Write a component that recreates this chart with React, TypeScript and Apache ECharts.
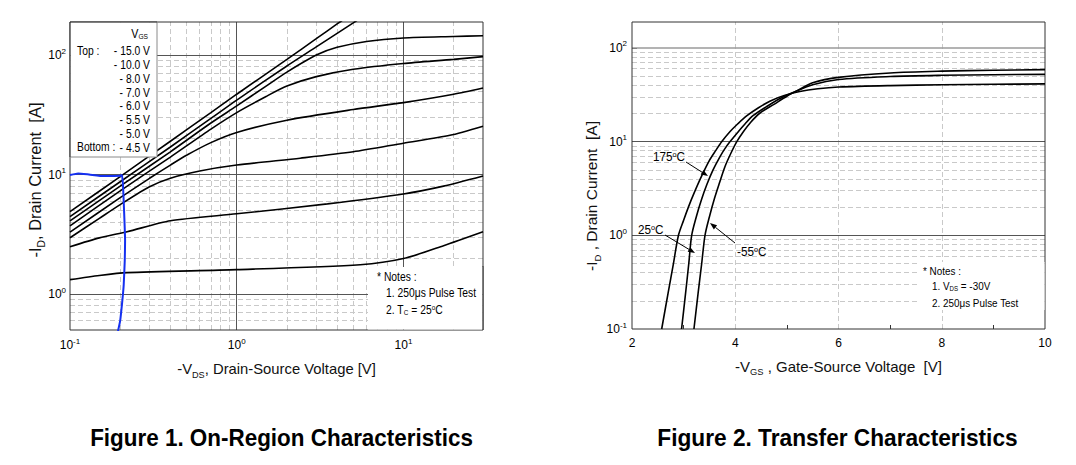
import React, { useEffect, useRef } from 'react';
import * as echarts from 'echarts';

const FONT = '"Liberation Sans", Arial, Helvetica, sans-serif';

// ---------------- Figure 1 : On-Region Characteristics ( -V_DS [V], -I_D [A] ) ----------------
const vgsLegendValues = ['- 15.0 V', '- 10.0 V', '- 8.0 V', '- 7.0 V', '- 6.0 V', '- 5.5 V', '- 5.0 V', '- 4.5 V'];

const onVgs15: [number, number][] = [[0.1, 4.9], [0.2, 9.6], [0.4, 19], [0.7, 33], [1, 47], [2, 92], [3, 137], [4, 182], [4.5, 204]];
const onVgs10: [number, number][] = [[0.1, 4.45], [0.2, 8.7], [0.4, 17], [0.7, 29.5], [1, 42], [2, 81], [3, 117], [4, 152], [5, 186], [5.5, 203]];
const onVgs8: [number, number][] = [[0.1, 4.1], [0.2, 8], [0.4, 15.5], [0.7, 27], [1, 37.5], [1.5, 55], [2, 72], [3, 100], [4, 116], [6, 130], [10, 139], [20, 143], [30, 145]];
const onVgs7: [number, number][] = [[0.1, 3.72], [0.2, 7.3], [0.4, 14], [0.7, 24], [1, 33], [1.5, 45], [2, 55], [3, 66], [5, 76], [10, 85], [20, 92], [30, 97]];
const onVgs6: [number, number][] = [[0.1, 3.3], [0.2, 6.4], [0.3, 9.3], [0.4, 12], [0.5, 14.5], [0.7, 18.5], [1, 22.5], [2, 28.5], [5, 35], [10, 40], [20, 47], [30, 53]];
const onVgs55: [number, number][] = [[0.1, 2.96], [0.15, 4.3], [0.2, 5.6], [0.3, 7.9], [0.4, 9.3], [0.6, 10.7], [1, 12], [2.4, 13.7], [5, 15.5], [10, 18.3], [19, 21.3], [30, 25.4]];
const onVgs5: [number, number][] = [[0.1, 2.49], [0.15, 2.95], [0.22, 3.32], [0.4, 4.1], [1, 4.69], [3.5, 5.68], [10, 6.88], [17.4, 8.0], [30, 9.72]];
const onVgs45: [number, number][] = [[0.1, 1.32], [0.15, 1.43], [0.22, 1.51], [1, 1.6], [5.5, 1.76], [10, 1.98], [17.4, 2.54], [30, 3.32]];
const onCurves = [onVgs15, onVgs10, onVgs8, onVgs7, onVgs6, onVgs55, onVgs5, onVgs45];

const blueTrace: [number, number][] = [
  [0.1, 9.9], [0.112, 10.2], [0.13, 10.0], [0.16, 9.7], [0.2, 9.75], [0.205, 9.9],
  [0.208, 8.0], [0.211, 5.0], [0.214, 2.8], [0.213, 1.9], [0.21, 1.2], [0.206, 0.88], [0.2, 0.6], [0.194, 0.49],
];

const f1MinorX = [0.2, 0.3, 0.4, 0.5, 0.6, 0.7, 0.8, 0.9, 2, 3, 4, 5, 6, 7, 8, 9, 20];
const f1MajorX = [1, 10];
const f1MinorY = [0.6, 0.7, 0.8, 0.9, 2, 3, 4, 5, 6, 7, 8, 9, 20, 30, 40, 50, 60, 70, 80, 90];
const f1MajorY = [1, 10, 100];

// ---------------- Figure 2 : Transfer Characteristics ( -V_GS [V], -I_D [A] ) ----------------
const tf175C: [number, number][] = [
  [2.575, 0.1], [2.7, 0.243], [2.8, 0.49], [2.9, 1.0], [3.0, 1.45], [3.1, 2.05], [3.2, 2.8], [3.35, 4.3], [3.5, 6.3],
  [3.62, 8.0], [3.74, 10], [3.9, 12.8], [4.05, 15.5], [4.22, 18.8], [4.45, 23], [4.67, 27], [4.95, 31], [5.25, 34.2],
  [5.6, 36.6], [6, 38.2], [7, 39.6], [8, 40.4], [9, 40.9], [10, 41.3],
];
const tf25C: [number, number][] = [
  [2.96, 0.1], [3.03, 0.22], [3.1, 0.5], [3.156, 1.0], [3.25, 1.61], [3.35, 2.44], [3.45, 3.48], [3.57, 4.99], [3.7, 6.84],
  [3.8, 8.41], [3.9, 10], [4.05, 12.6], [4.2, 15.7], [4.35, 19], [4.6, 23.5], [4.85, 28.5], [5.12, 33.5], [5.5, 40.5],
  [6, 46], [7, 49.5], [8, 51], [9, 51.7], [10, 52.2],
];
const tfMinus55C: [number, number][] = [
  [3.2, 0.1], [3.28, 0.24], [3.35, 0.5], [3.414, 1.0], [3.5, 1.58], [3.6, 2.5], [3.7, 3.7], [3.8, 5.4], [3.92, 7.6],
  [4.03, 10], [4.15, 12.6], [4.3, 16.1], [4.48, 20.2], [4.75, 25], [5.0, 30.5], [5.2, 35], [5.5, 42.5], [6, 48.5],
  [7, 54], [8, 56.5], [9, 57.8], [10, 58.6],
];
const tfCurves = [tf175C, tf25C, tfMinus55C];

const f2GridX = [4, 6, 8];
const f2TickX = [3, 4, 5, 6, 7, 8, 9];
const f2MinorY = [0.2, 0.3, 0.4, 0.5, 0.6, 0.7, 0.8, 0.9, 2, 3, 4, 5, 6, 7, 8, 9, 20, 30, 40, 50, 60, 70, 80, 90];
const f2MajorY = [1, 10, 100];

// ---------------- helpers ----------------
const pow10Label = (v: number) => {
  const l = Math.log10(v);
  const r = Math.round(l);
  if (Math.abs(l - r) > 1e-6) return '';
  return `{b|10}{s|${r}}`;
};
const powRich = {
  b: { fontSize: 12, fontFamily: FONT, color: '#000', lineHeight: 16 },
  s: { fontSize: 8, fontFamily: FONT, color: '#000', lineHeight: 8, verticalAlign: 'top' },
};
const nameRich = (size: number) => ({
  n: { fontSize: size, fontFamily: FONT, color: '#111', lineHeight: 20 },
  sub: { fontSize: size * 0.62, fontFamily: FONT, color: '#111', lineHeight: 9, verticalAlign: 'bottom' },
});
const textRich = (size: number) => ({
  n: { fontSize: size, fontFamily: FONT, fill: '#000', lineHeight: 14 },
  sub: { fontSize: size * 0.62, fontFamily: FONT, fill: '#000', lineHeight: 6, verticalAlign: 'bottom' },
  sup: { fontSize: size * 0.62, fontFamily: FONT, fill: '#000', lineHeight: 6, verticalAlign: 'top' },
});
const nameGraphicRich = (size: number) => ({
  n: { fontSize: size, fontFamily: FONT, fill: '#111', lineHeight: 22 },
  sub: { fontSize: size * 0.62, fontFamily: FONT, fill: '#111', lineHeight: 10, verticalAlign: 'bottom' },
});

const minorStyle = { type: [5, 3], color: '#c9c9c9', width: 1 };
const majorStyle = { type: 'solid', color: '#555', width: 1 };

function gridLineSeries(xi: number, minorX: number[], majorX: number[], minorY: number[], majorY: number[], majorYStyle?: (v: number) => any) {
  return {
    type: 'line',
    xAxisIndex: xi,
    yAxisIndex: xi,
    data: [],
    silent: true,
    z: 1,
    markLine: {
      silent: true,
      z: 1,
      symbol: ['none', 'none'],
      label: { show: false },
      animation: false,
      data: [
        ...minorX.map((v) => ({ xAxis: v, lineStyle: minorStyle })),
        ...minorY.map((v) => ({ yAxis: v, lineStyle: minorStyle })),
        ...majorX.map((v) => ({ xAxis: v, lineStyle: majorStyle })),
        ...majorY.map((v) => ({ yAxis: v, lineStyle: majorYStyle ? majorYStyle(v) : majorStyle })),
      ],
    },
  };
}

function txt(x: number, y: number, text: string, size: number, align = 'left', sx = 0.86) {
  return {
    type: 'text',
    x,
    y,
    z: 110,
    scaleX: sx,
    style: {
      text,
      fontSize: size,
      fontFamily: FONT,
      fill: '#000',
      textAlign: align,
      align,
      textVerticalAlign: 'middle',
      verticalAlign: 'middle',
      rich: textRich(size),
    },
  };
}

function vName(x: number, y: number, text: string, size: number) {
  return {
    type: 'text',
    x,
    y,
    z: 110,
    rotation: Math.PI / 2,
    style: {
      text,
      fontSize: size,
      fontFamily: FONT,
      fill: '#111',
      textAlign: 'center',
      align: 'center',
      textVerticalAlign: 'middle',
      verticalAlign: 'middle',
      rich: nameGraphicRich(size),
    },
  };
}

function arrow(x1: number, y1: number, x2: number, y2: number) {
  const ang = Math.atan2(y2 - y1, x2 - x1);
  const L = 7;
  const W = 2.6;
  const bx = x2 - L * Math.cos(ang);
  const by = y2 - L * Math.sin(ang);
  const px = -Math.sin(ang) * W;
  const py = Math.cos(ang) * W;
  return [
    { type: 'line', z: 110, shape: { x1, y1, x2: bx, y2: by }, style: { stroke: '#000', lineWidth: 1 } },
    { type: 'polygon', z: 110, shape: { points: [[x2, y2], [bx + px, by + py], [bx - px, by - py]] }, style: { fill: '#000' } },
  ];
}

function title(x: number, text: string, sx: number) {
  return {
    type: 'text', x, y: 438, z: 110, scaleX: sx,
    style: { text, fontSize: 23.5, fontWeight: 'bold', fontFamily: FONT, fill: '#000', textAlign: 'center', align: 'center', textVerticalAlign: 'middle', verticalAlign: 'middle' },
  };
}

const curveSeries = (xi: number, d: [number, number][], color = '#000', width = 1.6, smooth = 0.25) => ({
  type: 'line', xAxisIndex: xi, yAxisIndex: xi, data: d, symbol: 'none', smooth, z: 10,
  lineStyle: { color, width }, clip: true,
});

const option: any = {
  animation: false,
  backgroundColor: '#fff',
  grid: [
    { left: 70, top: 22, width: 413, height: 308, show: true, borderColor: '#333', borderWidth: 1, backgroundColor: 'transparent', z: 4 },
    { left: 632, top: 22, width: 413, height: 307, show: true, borderColor: '#333', borderWidth: 1, backgroundColor: 'transparent', z: 4 },
  ],
  xAxis: [
    {
      gridIndex: 0,
      type: 'log',
      min: 0.1,
      max: 30,
      axisLine: { show: false },
      splitLine: { show: false },
      axisTick: { show: true, inside: true, length: 5, lineStyle: { color: '#333' }, customValues: [...f1MinorX, ...f1MajorX] },
      axisLabel: { formatter: pow10Label, rich: powRich, margin: 7, showMinLabel: true, showMaxLabel: true },
      name: '{n|-V}{sub|DS}{n|, Drain-Source Voltage [V]}',
      nameLocation: 'middle',
      nameGap: 29,
      nameTextStyle: { rich: nameRich(14.8) },
    },
    {
      gridIndex: 1,
      type: 'value',
      min: 2,
      max: 10,
      interval: 2,
      axisLine: { show: false },
      splitLine: { show: false },
      axisTick: { show: true, inside: true, length: 4, lineStyle: { color: '#333' }, customValues: f2TickX },
      axisLabel: { fontSize: 12, fontFamily: FONT, color: '#000', margin: 8 },
      name: '{n|-V}{sub|GS}{n| , Gate-Source Voltage  [V]}',
      nameLocation: 'middle',
      nameGap: 27,
      nameTextStyle: { rich: nameRich(15) },
    },
  ],
  yAxis: [
    {
      gridIndex: 0,
      type: 'log',
      min: 0.5,
      max: 189,
      axisLine: { show: false },
      splitLine: { show: false },
      axisTick: { show: true, inside: true, length: 5, lineStyle: { color: '#333' }, customValues: [...f1MinorY, ...f1MajorY] },
      axisLabel: { formatter: pow10Label, rich: powRich, margin: 4 },
    },
    {
      gridIndex: 1,
      type: 'log',
      min: 0.1,
      max: 189,
      axisLine: { show: false },
      splitLine: { show: false },
      axisTick: { show: true, inside: true, length: 5, lineStyle: { color: '#333' }, customValues: [...f2MinorY, ...f2MajorY] },
      axisLabel: { formatter: pow10Label, rich: powRich, margin: 5 },
    },
  ],
  series: [
    gridLineSeries(0, f1MinorX, f1MajorX, f1MinorY, f1MajorY),
    gridLineSeries(1, f2GridX, [], f2MinorY, f2MajorY, (v) => (v === 100 ? { type: 'solid', color: '#9a9a9a', width: 1.5 } : majorStyle)),
    ...onCurves.map((d) => curveSeries(0, d)),
    curveSeries(0, blueTrace, '#1530f0', 2, 0.15),
    ...tfCurves.map((d) => curveSeries(1, d, '#000', 1.6, 0.3)),
  ],
  graphic: [
    // axis names (vertical)
    vName(35, 180, '{n|-I}{sub|D}{n|, Drain Current  [A]}', 16.5),
    vName(591, 196, '{n|-I}{sub|D}{n| , Drain Current  [A]}', 15.5),
    // legend box (figure 1)
    { type: 'rect', z: 100, shape: { x: 70.5, y: 22.5, width: 86.5, height: 134.5 }, style: { fill: '#fff', stroke: null } },
    { type: 'line', z: 101, shape: { x1: 157, y1: 22, x2: 157, y2: 157 }, style: { stroke: '#8a8a8a', lineWidth: 1 } },
    { type: 'line', z: 101, shape: { x1: 70, y1: 157, x2: 157, y2: 157 }, style: { stroke: '#8a8a8a', lineWidth: 1 } },
    { type: 'line', z: 101, shape: { x1: 70, y1: 22, x2: 157, y2: 22 }, style: { stroke: '#333', lineWidth: 1 } },
    { type: 'line', z: 101, shape: { x1: 70, y1: 22, x2: 70, y2: 157 }, style: { stroke: '#333', lineWidth: 1 } },
    txt(148, 33, '{n|V}{sub|GS}', 12.5, 'right'),
    txt(77, 51, 'Top :', 12, 'left'),
    txt(77, 147, 'Bottom :', 12, 'left'),
    ...vgsLegendValues.map((v, i) => txt(150, 51 + i * 13.75, v, 12, 'right')),
    // notes (figure 1)
    { type: 'rect', z: 100, shape: { x: 368, y: 267, width: 114.5, height: 62.5 }, style: { fill: '#fff', stroke: null } },
    { type: 'line', z: 101, shape: { x1: 483, y1: 266, x2: 483, y2: 330 }, style: { stroke: '#333', lineWidth: 1 } },
    txt(377, 277, '* Notes :', 12, 'left'),
    txt(386, 292.5, '1. 250μs Pulse Test', 12, 'left'),
    txt(386, 309.5, '2. T{sub|C} = 25{sup|o}C', 12, 'left'),
    // notes (figure 2)
    { type: 'rect', z: 100, shape: { x: 918, y: 262, width: 126.5, height: 48 }, style: { fill: '#fff', stroke: null } },
    txt(923, 271, '* Notes :', 11.5, 'left'),
    txt(932, 286, '1. V{sub|DS} = -30V', 11.5, 'left'),
    txt(932, 302.5, '2. 250μs Pulse Test', 11.5, 'left'),
    // temperature annotations (figure 2)
    txt(653, 157, '175{sup|o}C', 13, 'left', 0.9),
    ...arrow(686, 162, 708, 176),
    txt(638, 230, '25{sup|o}C', 13, 'left', 0.9),
    ...arrow(665, 235, 695, 253),
    txt(737, 252, '-55{sup|o}C', 13, 'left', 0.9),
    ...arrow(735, 243, 710, 223),
    // figure titles
    title(281.5, 'Figure 1. On-Region Characteristics', 0.955),
    title(837.5, 'Figure 2. Transfer Characteristics', 0.965),
  ],
};

export default function App() {
  const ref = useRef<HTMLDivElement>(null);
  useEffect(() => {
    document.body.style.margin = '0';
    const chart = echarts.init(ref.current as HTMLDivElement, null, { renderer: 'svg' });
    chart.setOption(option);
    return () => chart.dispose();
  }, []);
  return <div ref={ref} style={{ width: 1076, height: 465, background: '#fff' }} />;
}
